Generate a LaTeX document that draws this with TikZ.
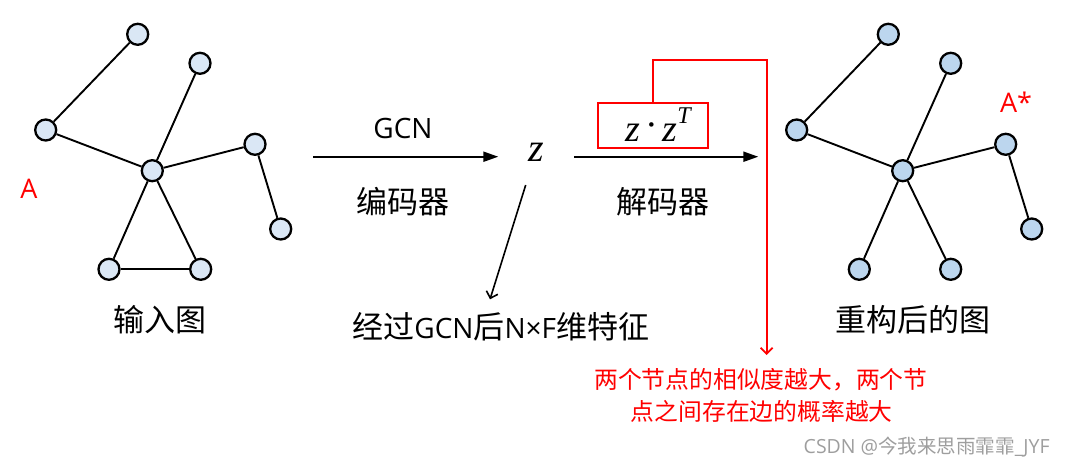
\documentclass[tikz,border=0pt]{standalone}
\usepackage{fontspec}
\setmainfont{Open Sans}
\newfontfamily\cjk{Noto Sans CJK SC}
\newfontfamily\lser{Liberation Serif}
\usetikzlibrary{arrows.meta}
\definecolor{nodeA}{HTML}{DAE7F5}
\definecolor{nodeB}{HTML}{BCD6EE}
\definecolor{redc}{HTML}{FF0000}
\begin{document}
\begin{tikzpicture}[x=1pt,y=-1pt,
  gnode/.style={circle,draw=black,line width=2.3pt,minimum size=21pt,inner sep=0pt},
  gnodeA/.style={gnode,fill=nodeA},
  gnodeB/.style={gnode,fill=nodeB},
  edge/.style={line width=1.9pt},
  bigtxt/.style={inner sep=0pt,font=\fontsize{31}{34}\selectfont\cjk},
  redtxt/.style={inner sep=0pt,text=redc,font=\fontsize{23.8}{26}\selectfont\cjk},
  mainarrow/.style={line width=2pt,-{Triangle[length=15pt,width=10pt]}},
  thinarrow/.style={line width=1.6pt,-{Straight Barb[length=6pt,width=12pt,line width=1.6pt]}}
]
\useasboundingbox (0,0) rectangle (1068,467);
% left graph
\node[gnodeA] (a1) at (137.7,34.3) {};
\node[gnodeA] (a2) at (200,63.3) {};
\node[gnodeA] (a3) at (45.7,130) {};
\node[gnodeA] (ac) at (152.3,170.7) {};
\node[gnodeA] (a5) at (255,144.3) {};
\node[gnodeA] (a6) at (280.7,229) {};
\node[gnodeA] (a7) at (109,269.3) {};
\node[gnodeA] (a8) at (200.7,269.3) {};
\draw[edge] (a1) -- (a3);
\draw[edge] (a3) -- (ac);
\draw[edge] (ac) -- (a2);
\draw[edge] (ac) -- (a5);
\draw[edge] (a5) -- (a6);
\draw[edge] (ac) -- (a7);
\draw[edge] (ac) -- (a8);
\draw[edge] (a7) -- (a8);
\node[inner sep=0pt,text=redc,font=\fontsize{27}{28}\selectfont] (lA) at (29,189) {A};
\node[bigtxt] (lin) at (160,320) {输入图};
% right graph
\node[gnodeB] (b1) at (888.3,34.3) {};
\node[gnodeB] (b2) at (950.7,63.3) {};
\node[gnodeB] (b3) at (796.7,130) {};
\node[gnodeB] (bc) at (902.7,170.7) {};
\node[gnodeB] (b5) at (1005.7,144.3) {};
\node[gnodeB] (b6) at (1031.7,229) {};
\node[gnodeB] (b7) at (859.3,269.3) {};
\node[gnodeB] (b8) at (950.7,269.3) {};
\draw[edge] (b1) -- (b3);
\draw[edge] (b3) -- (bc);
\draw[edge] (bc) -- (b2);
\draw[edge] (bc) -- (b5);
\draw[edge] (b5) -- (b6);
\draw[edge] (bc) -- (b7);
\draw[edge] (bc) -- (b8);
\node[inner sep=0pt,text=redc,font=\fontsize{27}{28}\selectfont] (lAs) at (1016,102) {A*};
\node[bigtxt] (lout) at (913.3,320) {重构后的图};
% middle
\coordinate (e1s) at (313.3,156.7);
\coordinate (e1e) at (498.3,156.7);
\draw[mainarrow] (e1s) -- (e1e);
\node[inner sep=0pt,font=\fontsize{28}{30}\selectfont] (gcn) at (403,128) {GCN};
\node[bigtxt] (enc) at (403,202) {编码器};
\node[inner sep=0pt,anchor=base,font=\fontsize{40}{40}\selectfont\lser\itshape] (z) at (536,161.7) {z};
\coordinate (e2s) at (574,156.7);
\coordinate (e2e) at (758.3,156.7);
\draw[mainarrow] (e2s) -- (e2e);
\node[draw=redc,line width=2pt,minimum width=110pt,minimum height=45pt,inner sep=0pt] (box) at (652.7,125.2) {};
\node[inner sep=0pt,anchor=base,font=\fontsize{38}{38}\selectfont\lser] (zz) at (658,141.7) {\itshape z\kern5pt\upshape\raisebox{0.1em}{·}\kern5pt\itshape z\raisebox{0.48em}{\fontsize{24}{24}\selectfont T}};
\node[bigtxt] (dec) at (663.3,202) {解码器};
\coordinate (zs) at (525.7,185);
\coordinate (ze) at (490,299.3);
\draw[thinarrow] (zs) -- (ze);
\node[inner sep=0pt,font=\fontsize{28}{34}\selectfont] (feat) at (500.8,326.7) {{\fontsize{31}{34}\selectfont\cjk 经过}GCN{\fontsize{31}{34}\selectfont\cjk 后}N×F{\fontsize{31}{34}\selectfont\cjk 维特征}};
\coordinate (rc1) at (766.7,60);
\coordinate (rtip) at (766.7,355);
\draw[redc,line width=1.8pt,-{Straight Barb[length=6pt,width=12pt,line width=1.8pt]}] (box.north) |- (rc1) -- (rtip);
\node[redtxt] (r1) at (760.8,379.3) {两个节点的相似度越大，两个节};
\node[redtxt] (r2) at (761.7,411.7) {点之间存在边的概率越大};
\node[inner sep=0pt,text=black!38,font=\fontsize{19.5}{21}\selectfont] (wm) at (926.7,447.3) {CSDN @{\cjk 今我来思雨霏霏}\_JYF};
\end{tikzpicture}
\end{document}
